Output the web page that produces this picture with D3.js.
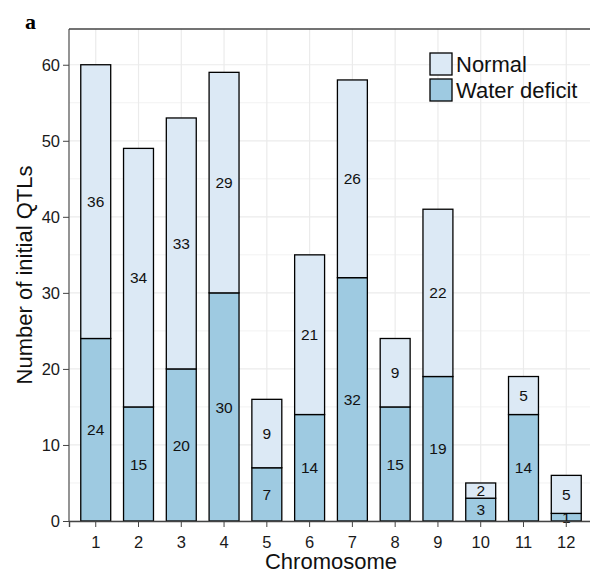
<!DOCTYPE html>
<meta charset="utf-8">
<head>
  <style>
    body { margin: 0; background: #fff; }
    text { font-family: "Liberation Sans", Arial, sans-serif; }
  </style>
</head>
<body>
<div id="my_dataviz"></div>
<script src="https://d3js.org/d3.v7.min.js"></script>
<script>

// data
var chromosomes = ["1", "2", "3", "4", "5", "6", "7", "8", "9", "10", "11", "12"];
var waterDeficit = [24, 15, 20, 30, 7, 14, 32, 15, 19, 3, 14, 1];
var normal = [36, 34, 33, 29, 9, 21, 26, 9, 22, 2, 5, 5];
var seriesNames = ["Water deficit", "Normal"];
var yTicks = [0, 10, 20, 30, 40, 50, 60];

var colors = {"Normal": "#dce9f5", "Water deficit": "#9ecae1"};

var W = 590, H = 576;
var margin = {top: 29, right: -3, bottom: 55, left: 69},
    width = W - margin.left - margin.right,
    height = H - margin.top - margin.bottom;

var svg = d3.select("#my_dataviz")
  .append("svg")
    .attr("width", W)
    .attr("height", H);

var g = svg.append("g")
    .attr("transform", "translate(" + margin.left + "," + margin.top + ")");

// build a table for d3.stack
var table = chromosomes.map(function(c, i) {
  return {chr: c, "Water deficit": waterDeficit[i], "Normal": normal[i]};
});
var stacked = d3.stack().keys(seriesNames)(table);

var x = d3.scaleBand()
  .domain(chromosomes)
  .range([0, width])
  .paddingInner(0.3)
  .paddingOuter(0.275);

var y = d3.scaleLinear()
  .domain([0, 64.7])
  .range([height, 0]);

// grid
var minor = d3.range(5, 65, 10);
g.append("g").selectAll("line").data(minor).enter().append("line")
  .attr("x1", 0).attr("x2", width)
  .attr("y1", function(d) { return y(d); }).attr("y2", function(d) { return y(d); })
  .attr("stroke", "#f2f2f2").attr("stroke-width", 1);
g.append("g").selectAll("line").data(yTicks).enter().append("line")
  .attr("x1", 0).attr("x2", width)
  .attr("y1", function(d) { return y(d); }).attr("y2", function(d) { return y(d); })
  .attr("stroke", "#ebebeb").attr("stroke-width", 1.2);
g.append("g").selectAll("line").data(chromosomes).enter().append("line")
  .attr("x1", function(d) { return x(d) + x.bandwidth() / 2; })
  .attr("x2", function(d) { return x(d) + x.bandwidth() / 2; })
  .attr("y1", 0).attr("y2", height)
  .attr("stroke", "#ebebeb").attr("stroke-width", 1.2);

// bars
var layers = g.append("g").selectAll("g").data(stacked).enter().append("g")
  .attr("fill", function(d) { return colors[d.key]; });

layers.selectAll("rect").data(function(d) { return d; }).enter().append("rect")
  .attr("x", function(d) { return x(d.data.chr); })
  .attr("width", x.bandwidth())
  .attr("y", function(d) { return y(d[1]); })
  .attr("height", function(d) { return y(d[0]) - y(d[1]); })
  .attr("stroke", "#000")
  .attr("stroke-width", 1.3);

// labels
layers.selectAll("text").data(function(d) { return d; }).enter().append("text")
  .attr("x", function(d) { return x(d.data.chr) + x.bandwidth() / 2; })
  .attr("y", function(d) { return y((d[0] + d[1]) / 2); })
  .attr("dy", "0.36em")
  .attr("text-anchor", "middle")
  .style("font-size", "15.5px")
  .attr("fill", "#111")
  .text(function(d) { return d[1] - d[0]; });

// axes
var xAxis = g.append("g")
  .attr("transform", "translate(0," + height + ")")
  .call(d3.axisBottom(x).tickSize(6).tickPadding(9));
xAxis.select(".domain").attr("stroke", "#444").attr("stroke-width", 1.4);
xAxis.selectAll(".tick line").attr("stroke", "#444");
xAxis.selectAll("text").style("font-size", "16.5px").attr("fill", "#1a1a1a");

var yAxis = g.append("g")
  .call(d3.axisLeft(y).tickValues(yTicks).tickSize(6).tickPadding(3));
yAxis.select(".domain").attr("stroke", "#666").attr("stroke-width", 1.4)
  .attr("d", "M0," + height + "V0");
yAxis.selectAll(".tick line").attr("stroke", "#444");
yAxis.selectAll("text").style("font-size", "16.5px").attr("fill", "#1a1a1a");

// top border
g.append("line")
  .attr("x1", 0).attr("x2", width).attr("y1", 0).attr("y2", 0)
  .attr("stroke", "#444").attr("stroke-width", 1.4);

// axis titles
svg.append("text")
  .attr("x", margin.left + width / 2)
  .attr("y", 569)
  .attr("text-anchor", "middle")
  .style("font-size", "22px")
  .attr("fill", "#111")
  .text("Chromosome");

svg.append("text")
  .attr("transform", "translate(32," + (margin.top + height / 2) + ") rotate(-90)")
  .attr("text-anchor", "middle")
  .style("font-size", "22px")
  .attr("fill", "#111")
  .text("Number of initial QTLs");

// panel letter
svg.append("text")
  .attr("x", 25).attr("y", 29)
  .style("font-family", "'Liberation Serif', 'Times New Roman', serif")
  .style("font-weight", "bold")
  .style("font-size", "22px")
  .text("a");

// legend
var legendItems = ["Normal", "Water deficit"];
var legend = svg.append("g").attr("transform", "translate(430,53)");
var li = legend.selectAll("g").data(legendItems).enter().append("g")
  .attr("transform", function(d, i) { return "translate(0," + (i * 26) + ")"; });
li.append("rect")
  .attr("width", 22).attr("height", 22)
  .attr("fill", function(d) { return colors[d]; })
  .attr("stroke", "#000").attr("stroke-width", 1.3);
li.append("text")
  .attr("x", 26).attr("y", 11).attr("dy", "0.36em")
  .style("font-size", "22px")
  .attr("fill", "#111")
  .text(function(d) { return d; });

</script>
</body>
